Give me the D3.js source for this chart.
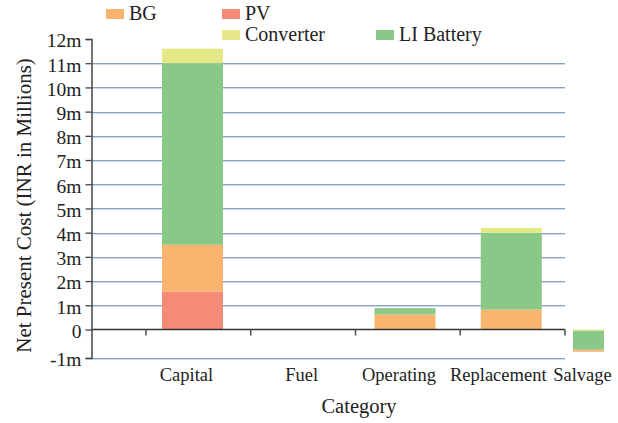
<!DOCTYPE html>
<html>
<head>
<meta charset="utf-8">
<script src="https://cdn.jsdelivr.net/npm/d3@7/dist/d3.min.js"></script>
<style>
  html, body { margin: 0; padding: 0; background: #fff; }
  svg { display: block; }
  text { font-family: "Liberation Serif", "Times New Roman", serif; fill: #222; }
</style>
</head>
<body>
<svg id="chart" width="618" height="423"></svg>
<script>
// ---- data ----
const categories = ["Capital", "Fuel", "Operating", "Replacement", "Salvage"];
const seriesNames = ["PV", "BG", "LI Battery", "Converter"];
const pvValues        = [1.57, 0, 0,    0,    0];
const bgValues        = [1.93, 0, 0.62, 0.82, -0.07];
const batteryValues   = [7.50, 0, 0.26, 3.18, -0.66];
const converterValues = [0.60, 0, 0,    0.20, -0.05];
const yTickValues = [-1, 0, 1, 2, 3, 4, 5, 6, 7, 8, 9, 10, 11, 12];
const yTickLabels = ["-1m", "0", "1m", "2m", "3m", "4m", "5m", "6m", "7m", "8m", "9m", "10m", "11m", "12m"];
const legendOrder = ["BG", "PV", "Converter", "LI Battery"];

// ---- styles ----
const colors = { "PV": "#f48b76", "BG": "#f9b46e", "LI Battery": "#89c887", "Converter": "#e4e886" };
const valuesBySeries = { "PV": pvValues, "BG": bgValues, "LI Battery": batteryValues, "Converter": converterValues };

const W = 618, H = 423;
const axisX = 91.5, plotRight = 565;
const svg = d3.select("#chart");

const y = d3.scaleLinear().domain([-1, 0, 12]).range([358, 329.5, 39]);
const xc = d3.scalePoint().domain(categories).range([192.5, 617.5]);
const xt = d3.scalePoint().domain(categories).range([146, 565]);
const barW = 61;

// gridlines
const gridVals = yTickValues.filter(v => v !== 0 && v !== 12);
svg.append("g").selectAll("line.g1").data(gridVals).join("line")
  .attr("x1", axisX).attr("x2", plotRight)
  .attr("y1", d => Math.round(y(d)) + 0.5).attr("y2", d => Math.round(y(d)) + 0.5)
  .attr("stroke", "#86a3c5").attr("stroke-width", 1.2);
svg.append("g").selectAll("line.g2").data(gridVals).join("line")
  .attr("x1", axisX).attr("x2", plotRight)
  .attr("y1", d => Math.round(y(d)) + 1.5).attr("y2", d => Math.round(y(d)) + 1.5)
  .attr("stroke", "#cfdbe8").attr("stroke-width", 1);

// stacked bars
const posOrder = ["PV", "BG", "LI Battery", "Converter"];
const negOrder = ["Converter", "LI Battery", "BG", "PV"];
const rects = [];
categories.forEach((c, i) => {
  let pos = 0, neg = 0;
  posOrder.forEach(s => {
    const v = valuesBySeries[s][i];
    if (v > 0) { rects.push({ c, s, y0: pos, y1: pos + v }); pos += v; }
  });
  negOrder.forEach(s => {
    const v = valuesBySeries[s][i];
    if (v < 0) { rects.push({ c, s, y0: neg + v, y1: neg }); neg += v; }
  });
});
const barLeft = c => Math.min(xc(c) - barW / 2, plotRight + 8);
const barWidth = c => Math.min(barW, (W - 14) - barLeft(c));
svg.append("g").selectAll("rect").data(rects).join("rect")
  .attr("x", d => barLeft(d.c))
  .attr("width", d => barWidth(d.c))
  .attr("y", d => y(d.y1))
  .attr("height", d => Math.max(0, y(d.y0) - y(d.y1)))
  .attr("fill", d => colors[d.s]);

// zero line
svg.append("line").attr("x1", axisX).attr("x2", plotRight)
  .attr("y1", y(0)).attr("y2", y(0)).attr("stroke", "#333").attr("stroke-width", 1.5);
// category ticks
svg.append("g").selectAll("line").data(categories).join("line")
  .attr("x1", d => xt(d)).attr("x2", d => xt(d))
  .attr("y1", y(0)).attr("y2", y(0) + 6)
  .attr("stroke", "#555").attr("stroke-width", 1.6);

// y axis
const yAxis = d3.axisLeft(y).tickValues(yTickValues)
  .tickFormat((d, i) => yTickLabels[i]).tickSizeOuter(0).tickSize(6).tickPadding(4);
const ya = svg.append("g").attr("transform", `translate(${axisX},0)`).call(yAxis);
ya.select(".domain").attr("stroke", "#444").attr("stroke-width", 1.5);
ya.selectAll(".tick line").attr("stroke", "#444").attr("stroke-width", 1.3);
ya.selectAll(".tick text").attr("font-family", "Liberation Serif, serif")
  .attr("font-size", 19.5).attr("fill", "#222").attr("dy", "0.4em");

// x labels
const labelShift = [-6, 3, -6, -13, -35];
svg.append("g").selectAll("text").data(categories).join("text")
  .attr("x", (d, i) => xc(d) + labelShift[i])
  .attr("y", 381)
  .attr("text-anchor", "middle")
  .attr("font-size", 18.5)
  .text(d => d);

// axis titles
svg.append("text").attr("x", 359).attr("y", 413).attr("text-anchor", "middle")
  .attr("font-size", 20.5).text("Category");
svg.append("text").attr("transform", "translate(31,205.5) rotate(-90)")
  .attr("text-anchor", "middle").attr("font-size", 21)
  .text("Net Present Cost (INR in Millions)");

// legend
const legendPos = {
  "BG": [106, 9], "PV": [222, 9], "Converter": [222, 30], "LI Battery": [376, 30]
};
const lg = svg.append("g").selectAll("g").data(legendOrder).join("g")
  .attr("transform", d => `translate(${legendPos[d][0]},${legendPos[d][1]})`);
lg.append("rect").attr("width", 18).attr("height", 10).attr("fill", d => colors[d]);
lg.append("text").attr("x", 23).attr("y", 11).attr("font-size", 20).text(d => d);
</script>
</body>
</html>
